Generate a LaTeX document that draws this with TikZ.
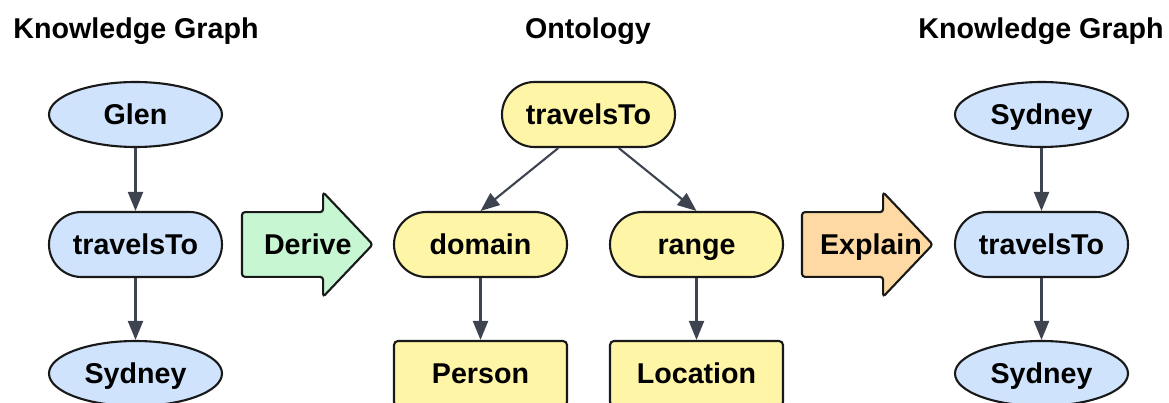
\documentclass[tikz,border=0pt]{standalone}
\usepackage{fontspec}
\setmainfont{Liberation Sans}
\usetikzlibrary{shapes.geometric,shapes.arrows,arrows.meta}

\definecolor{kgblue}{HTML}{CFE3FC}
\definecolor{ontyellow}{HTML}{FFF5A6}
\definecolor{derivegreen}{HTML}{C6F6D2}
\definecolor{explainorange}{HTML}{FED9A3}
\definecolor{linkgray}{HTML}{3D4450}

\tikzset{
	txt/.style={font=\bfseries\fontsize{16.3}{19}\selectfont},
	base/.style={txt, draw=black!90, line width=1.2pt, minimum width=3.46cm, minimum height=1.3cm,
		inner sep=0pt, text height=11.7pt, text depth=0pt},
	ent/.style={base, ellipse, fill=kgblue},
	rel/.style={base, rectangle, rounded corners=0.65cm, fill=#1},
	cls/.style={base, rectangle, rounded corners=0.08cm, fill=ontyellow},
	link/.style={line width=1.2pt, draw=linkgray, -{Triangle[length=0.38cm,width=0.3cm]}},
	bigarrow/.style={txt, single arrow, draw=black!90, line width=1.2pt, fill=#1, rounded corners=0.06cm,
		text height=11.7pt, text depth=0pt, inner xsep=0pt, inner ysep=0.42cm,
		single arrow head extend=0.4cm, single arrow tip angle=93}
}
\newcommand{\arrowtext}[2]{\makebox[1.96cm][l]{\hspace*{#1}#2}}

\begin{document}
\begin{tikzpicture}
	\useasboundingbox (0, 0) rectangle (23.38, -8.06);
	\clip (0, 0) rectangle (23.38, -8.06);
	% titles
	\node[txt, anchor=base] (t1) at (2.72, -0.78) {Knowledge Graph};
	\node[txt, anchor=base] (t2) at (11.76, -0.78) {Ontology};
	\node[txt, anchor=base] (t3) at (20.82, -0.78) {Knowledge Graph};
	% left graph
	\node[ent] (glen) at (2.71, -2.29) {Glen};
	\node[rel=kgblue] (trl) at (2.71, -4.89) {travelsTo};
	\node[ent] (sydl) at (2.71, -7.47) {Sydney};
	\draw[link] (glen)--(trl);
	\draw[link] (trl)--(sydl);
	% derive
	\node[bigarrow=derivegreen] (derive) at (5.84, -4.89) {\arrowtext{0.42cm}{Derive}};
	% ontology
	\node[rel=ontyellow] (onto) at (11.77, -2.29) {travelsTo};
	\node[rel=ontyellow] (domain) at (9.61, -4.89) {domain};
	\node[rel=ontyellow] (range) at (13.93, -4.89) {range};
	\node[cls] (person) at (9.61, -7.47) {Person};
	\node[cls] (location) at (13.93, -7.47) {Location};
	\draw[link] (onto.-132)--(domain.north);
	\draw[link] (onto.-48)--(range.north);
	\draw[link] (domain)--(person);
	\draw[link] (range)--(location);
	% explain
	\node[bigarrow=explainorange] (explain) at (17.04, -4.89) {\arrowtext{0.34cm}{Explain}};
	% right graph
	\node[ent] (sydr1) at (20.83, -2.29) {Sydney};
	\node[rel=kgblue] (trr) at (20.83, -4.89) {travelsTo};
	\node[ent] (sydr2) at (20.83, -7.47) {Sydney};
	\draw[link] (sydr1)--(trr);
	\draw[link] (trr)--(sydr2);
\end{tikzpicture}
\end{document}
